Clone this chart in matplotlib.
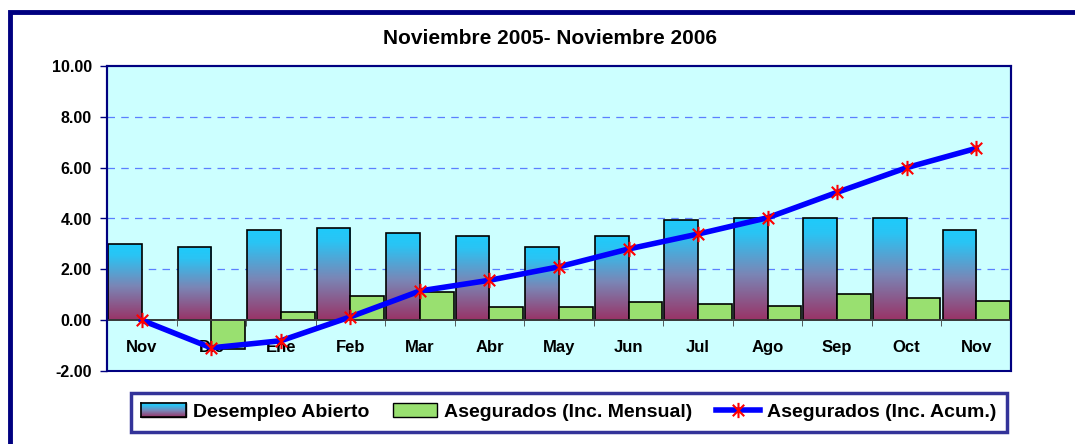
import numpy as np
import matplotlib
matplotlib.use("Agg")
import matplotlib.pyplot as plt
from matplotlib.colors import LinearSegmentedColormap
from matplotlib.patches import Rectangle, Patch
from matplotlib.lines import Line2D
from matplotlib.path import Path

plt.rcParams['font.family'] = ['Liberation Sans', 'DejaVu Sans']
plt.rcParams['font.weight'] = 'bold'

# Data
months = ["Nov", "Dic", "Ene", "Feb", "Mar", "Abr", "May", "Jun", "Jul", "Ago", "Sep", "Oct", "Nov"]
desempleo = [2.99, 2.86, 3.55, 3.63, 3.44, 3.32, 2.86, 3.32, 3.94, 4.00, 4.01, 4.01, 3.55]
aseg_mensual = [0.0, -1.12, 0.31, 0.96, 1.09, 0.50, 0.50, 0.70, 0.63, 0.56, 1.02, 0.88, 0.76]
aseg_acum = [0.0, -1.09, -0.81, 0.13, 1.15, 1.57, 2.10, 2.80, 3.39, 4.03, 5.03, 6.00, 6.76]
yticks = [-2, 0, 2, 4, 6, 8, 10]

navy = "#000080"
grad = LinearSegmentedColormap.from_list(
    "grad", [(0, "#993366"), (0.45, "#7a86b6"), (0.85, "#2ac4f4"), (1, "#1ecbfb")])

fig = plt.figure(figsize=(10.75, 4.44), dpi=100)
ax = fig.add_axes([107 / 1075, 1 - 371 / 444, (1011 - 107) / 1075, (371 - 66) / 444])
ax.set_facecolor("#ccffff")

x = np.arange(len(months))
w = 0.485

# gradient bars
gimg = np.linspace(0, 1, 256).reshape(-1, 1)
bars = ax.bar(x - w / 2, desempleo, width=w, facecolor="none", edgecolor="black", linewidth=1.2, zorder=3)
for b in bars:
    bx, by, bw, bh = b.get_x(), b.get_y(), b.get_width(), b.get_height()
    im = ax.imshow(gimg, extent=[bx, bx + bw, by, by + bh], origin="lower", cmap=grad,
                   aspect="auto", zorder=2)
    im.set_clip_path(b)
ax.bar(x + w / 2, aseg_mensual, width=w, color="#99e070", edgecolor="black", linewidth=1.2, zorder=3)

star = Path([(0, 1), (0, -1), (-0.75, 0.75), (0.75, -0.75), (-0.75, -0.75), (0.75, 0.75)],
            [Path.MOVETO, Path.LINETO, Path.MOVETO, Path.LINETO, Path.MOVETO, Path.LINETO])
ax.plot(x, aseg_acum, color="#0000ff", linewidth=4, marker=star, markersize=11,
        markeredgecolor="#ff0000", markeredgewidth=1.5, zorder=5)

ax.set_xlim(-0.5, len(months) - 0.5)
ax.set_ylim(-2, 10)
ax.set_yticks(yticks)
ax.set_yticklabels(["%.2f" % v for v in yticks], fontsize=11.5, fontweight="bold")
ax.tick_params(axis="y", direction="out", length=5, color=navy, width=1, pad=6)
for v in [2, 4, 6, 8]:
    ax.axhline(v, color="#5b7fff", linestyle=(0, (6, 5)), linewidth=0.9, zorder=1)

# category axis at zero
ax.spines["bottom"].set_position(("data", 0))
ax.spines["bottom"].set_color("#404040")
ax.spines["bottom"].set_linewidth(1.2)
ax.spines["bottom"].set_zorder(4)
ax.set_xticks(x)
ax.set_xticklabels(months, fontsize=12, fontweight="bold")
ax.tick_params(axis="x", length=0, pad=14)
ax.set_xticks(np.arange(len(months) + 1) - 0.5, minor=True)
ax.tick_params(axis="x", which="minor", length=4, direction="out", color="#404040")
for s in ["left", "top", "right"]:
    ax.spines[s].set_color(navy)
    ax.spines[s].set_linewidth(1.5)
ax.add_patch(Rectangle((0, 0), 1, 1, transform=ax.transAxes, fill=False,
                       edgecolor=navy, linewidth=1.5, zorder=6, clip_on=False))

fig.text(550 / 1075, 1 - 38 / 444, "Noviembre 2005- Noviembre 2006", ha="center", va="center",
         fontsize=15, fontweight="bold")

# outer frame
fig.add_artist(Rectangle((10 / 1075, -0.2), 1.3, 1.2 - 12.5 / 444, transform=fig.transFigure,
                         fill=False, edgecolor=navy, linewidth=3.5))

h1 = Patch(facecolor="#4fa0d8", edgecolor="black")
h2 = Patch(facecolor="#99e070", edgecolor="black")
h3 = Line2D([], [], color="#0000ff", linewidth=4, marker=star, markersize=11,
            markeredgecolor="#ff0000", markeredgewidth=1.5)
leg = fig.legend([h1, h2, h3], ["Desempleo Abierto", "Asegurados (Inc. Mensual)", "Asegurados (Inc. Acum.)"],
                 loc="center", bbox_to_anchor=(569 / 1075, 1 - 412 / 444), ncol=3, frameon=True,
                 fancybox=False, edgecolor=navy, prop={"weight": "bold", "size": 14},
                 handlelength=2.3, handleheight=0.7, columnspacing=1.2, handletextpad=0.35,
                 borderpad=0.55)
leg.get_frame().set_linewidth(2.5)

# gradient in legend patch
fig.canvas.draw()
lp = leg.get_patches()[0]
bb = lp.get_window_extent()
inv = fig.transFigure.inverted()
(x0, y0), (x1, y1) = inv.transform([[bb.x0, bb.y0], [bb.x1, bb.y1]])
lax = fig.add_axes([x0, y0, x1 - x0, y1 - y0], zorder=10)
lax.imshow(gimg, extent=[0, 1, 0, 1], origin="lower", cmap=grad, aspect="auto")
lax.set_xticks([])
lax.set_yticks([])
for s in lax.spines.values():
    s.set_color("black")
    s.set_linewidth(1.2)

fig.savefig("out.png", dpi=100, facecolor="white")
